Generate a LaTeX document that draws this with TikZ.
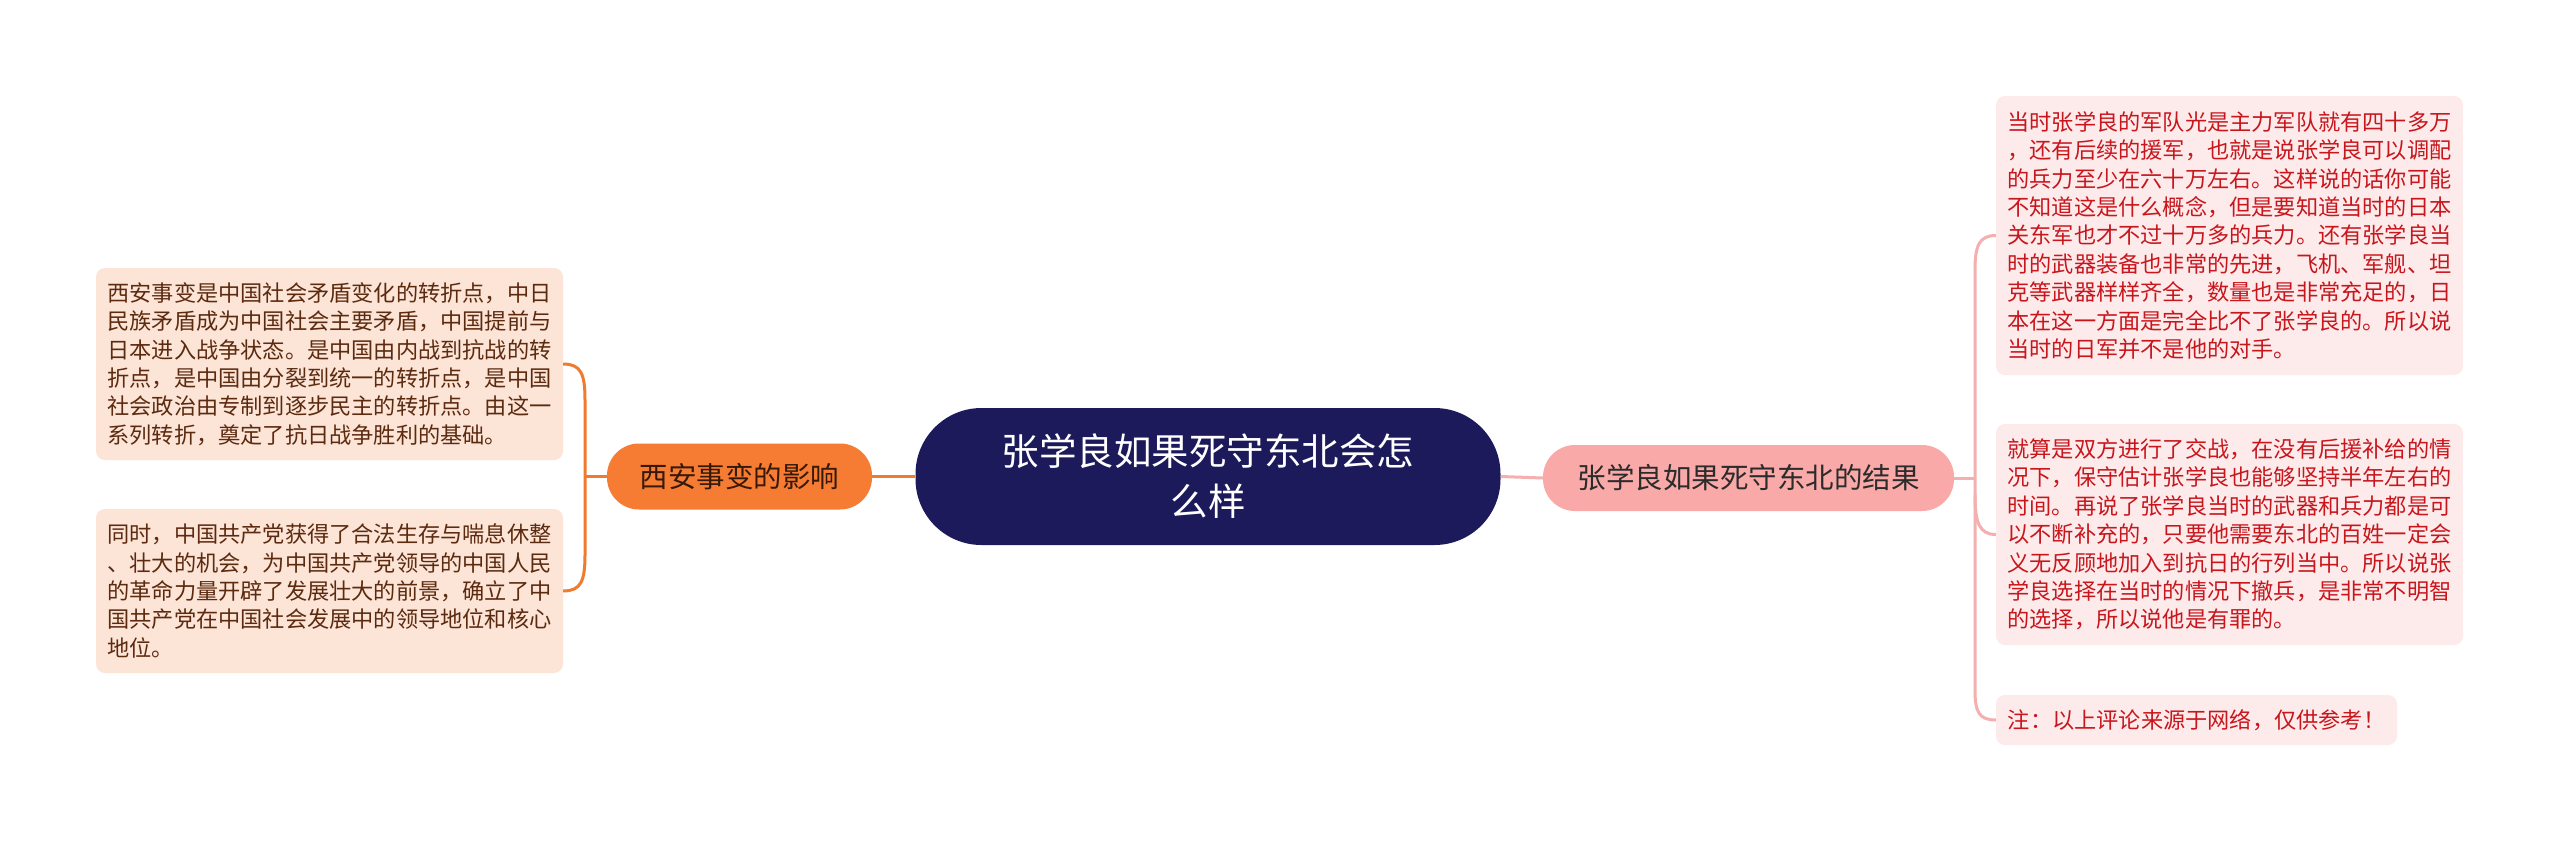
\documentclass[tikz,border=0pt]{standalone}
\usepackage{fontspec}
\setmainfont{Noto Sans CJK SC}
\definecolor{navy}{HTML}{1C1A5A}
\definecolor{orangeB}{HTML}{F57C32}
\definecolor{orangeL}{HTML}{F07A2E}
\definecolor{peach}{HTML}{FCE4D7}
\definecolor{brownT}{HTML}{5C2A0F}
\definecolor{pinkB}{HTML}{F9A9A8}
\definecolor{pinkL}{HTML}{F4AFAF}
\definecolor{pinkF}{HTML}{FDEBEB}
\definecolor{redT}{HTML}{C8161D}
\definecolor{darkT}{HTML}{2B2B2B}
\begin{document}
\begin{tikzpicture}[x=1pt,y=-1pt,
  centerbox/.style={fill=navy,text=white,rounded corners=66pt,minimum width=585pt,minimum height=137pt,align=center,inner sep=0pt,font=\fontsize{37.5pt}{50pt}\selectfont},
  branchbox/.style={rounded corners=32pt,minimum height=66pt,inner sep=0pt,font=\fontsize{28.5pt}{34pt}\selectfont},
  leafbox/.style={rounded corners=9pt,align=left,inner ysep=0pt,font=\fontsize{22.2pt}{28.4pt}\selectfont},
  oline/.style={draw=orangeL,line width=3pt},
  pline/.style={draw=pinkL,line width=3pt}]
\useasboundingbox (0,0) rectangle (2560,841);
\fill[white] (0,0) rectangle (2560,841);
% nodes
\node[centerbox] (c) at (1208,476.5) {张学良如果死守东北会怎\\么样};
\node[branchbox,fill=orangeB,text=brownT!60!black,minimum width=265pt] (lb) at (739.5,476.5) {西安事变的影响};
\node[branchbox,fill=pinkB,text=darkT,minimum width=411pt] (rb) at (1748.5,478) {张学良如果死守东北的结果};
\node[leafbox,fill=peach,text=brownT,text width=444pt,inner xsep=11.5pt,minimum height=192pt] (l1) at (329.5,364) {西安事变是中国社会矛盾变化的转折点，中日\\民族矛盾成为中国社会主要矛盾，中国提前与\\日本进入战争状态。是中国由内战到抗战的转\\折点，是中国由分裂到统一的转折点，是中国\\社会政治由专制到逐步民主的转折点。由这一\\系列转折，奠定了抗日战争胜利的基础。};
\node[leafbox,fill=peach,text=brownT,text width=444pt,inner xsep=11.5pt,minimum height=164pt] (l2) at (329.5,591) {同时，中国共产党获得了合法生存与喘息休整\\、壮大的机会，为中国共产党领导的中国人民\\的革命力量开辟了发展壮大的前景，确立了中\\国共产党在中国社会发展中的领导地位和核心\\地位。};
\node[leafbox,fill=pinkF,text=redT,text width=444pt,inner xsep=11.5pt,minimum height=279pt] (r1) at (2229.5,235.5) {当时张学良的军队光是主力军队就有四十多万\\，还有后续的援军，也就是说张学良可以调配\\的兵力至少在六十万左右。这样说的话你可能\\不知道这是什么概念，但是要知道当时的日本\\关东军也才不过十万多的兵力。还有张学良当\\时的武器装备也非常的先进，飞机、军舰、坦\\克等武器样样齐全，数量也是非常充足的，日\\本在这一方面是完全比不了张学良的。所以说\\当时的日军并不是他的对手。};
\node[leafbox,fill=pinkF,text=redT,text width=444pt,inner xsep=11.5pt,minimum height=221pt] (r2) at (2229.5,534.5) {就算是双方进行了交战，在没有后援补给的情\\况下，保守估计张学良也能够坚持半年左右的\\时间。再说了张学良当时的武器和兵力都是可\\以不断补充的，只要他需要东北的百姓一定会\\义无反顾地加入到抗日的行列当中。所以说张\\学良选择在当时的情况下撤兵，是非常不明智\\的选择，所以说他是有罪的。};
\node[leafbox,fill=pinkF,text=redT,text width=377.4pt,inner xsep=11.8pt,minimum height=50pt] (r3) at (2196.5,720) {注：以上评论来源于网络，仅供参考！};
% junction coordinates
\coordinate (lj) at (585,476.5);
\coordinate (rj) at (1975,478);
% connectors
\draw[oline] (c.west) -- (lb.east);
\draw[pline] (c.east) -- (rb.west);
\draw[oline] (lb.west) -- (lj);
\draw[oline] (l1.east) .. controls (581,364) and (585,374) .. (585,400) -- (585,555) .. controls (585,581) and (581,591) .. (l2.east);
\draw[pline] (rb.east) -- (rj);
\draw[pline] (r1.west) .. controls (1979,235.5) and (1975,246) .. (1975,270) -- (1975,690) .. controls (1975,712) and (1979,720) .. (r3.west);
\draw[pline] (1975,495) .. controls (1975,522) and (1979,534.5) .. (r2.west);
\end{tikzpicture}
\end{document}
